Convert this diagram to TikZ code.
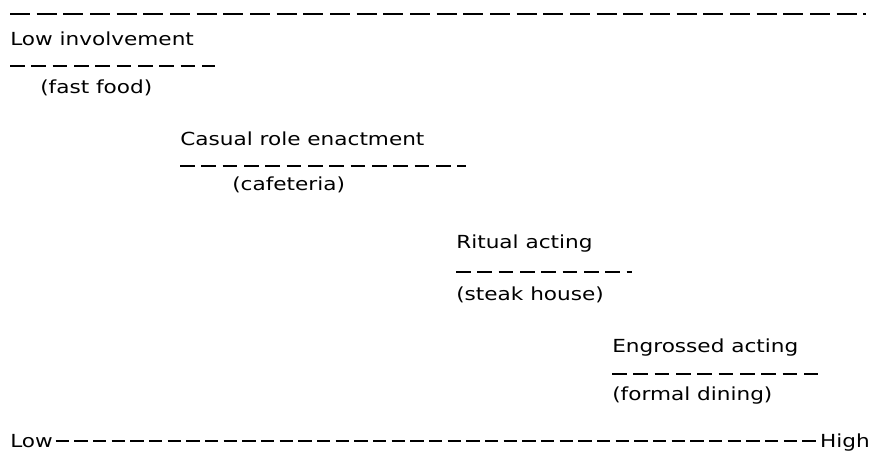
\documentclass[tikz,border=0pt]{standalone}
\usepackage{fontspec}
\setmainfont{DejaVu Sans}[FakeStretch=1.2]
\begin{document}
\begin{tikzpicture}[x=0.75pt,y=-0.75pt,
  lbl/.style={anchor=base west,inner sep=0pt,font=\fontsize{13.5}{16}\selectfont},
  longdash/.style={line width=1.4pt,dash pattern=on 15pt off 5pt},
  meddash/.style={line width=1.4pt,dash pattern=on 11pt off 5pt},
  shortdash/.style={line width=1.4pt,dash pattern=on 10pt off 4pt}]
\useasboundingbox (0,0) rectangle (880,464);
% top line
\coordinate (t1) at (10,14);
\coordinate (t2) at (866,14);
\draw[longdash] (t1) -- (t2);
% low involvement
\node[lbl] (li) at (10,45) {Low involvement};
\coordinate (lia) at (10,66); \coordinate (lib) at (215,66);
\draw[meddash] (lia) -- (lib);
\node[lbl] (ff) at (40,93) {(fast food)};
% casual role enactment
\node[lbl] (cr) at (180,145) {Casual role enactment};
\coordinate (cra) at (180,166); \coordinate (crb) at (466,166);
\draw[meddash] (cra) -- (crb);
\node[lbl] (cf) at (232,190) {(cafeteria)};
% ritual acting
\node[lbl] (ra) at (456,248) {Ritual acting};
\coordinate (raa) at (456,272); \coordinate (rab) at (632,272);
\draw[meddash] (raa) -- (rab);
\node[lbl] (sh) at (456,300) {(steak house)};
% engrossed acting
\node[lbl] (ea) at (612,352) {Engrossed acting};
\coordinate (eaa) at (612,374); \coordinate (eab) at (818,374);
\draw[meddash] (eaa) -- (eab);
\node[lbl] (fd) at (612,400) {(formal dining)};
% bottom axis
\node[lbl] (low) at (10,447) {Low};
\node[lbl,anchor=base east] (high) at (870,447) {High};
\draw[shortdash] ([xshift=2pt]low.east) -- ([xshift=-2pt]high.west |- low.east);
\end{tikzpicture}
\end{document}
